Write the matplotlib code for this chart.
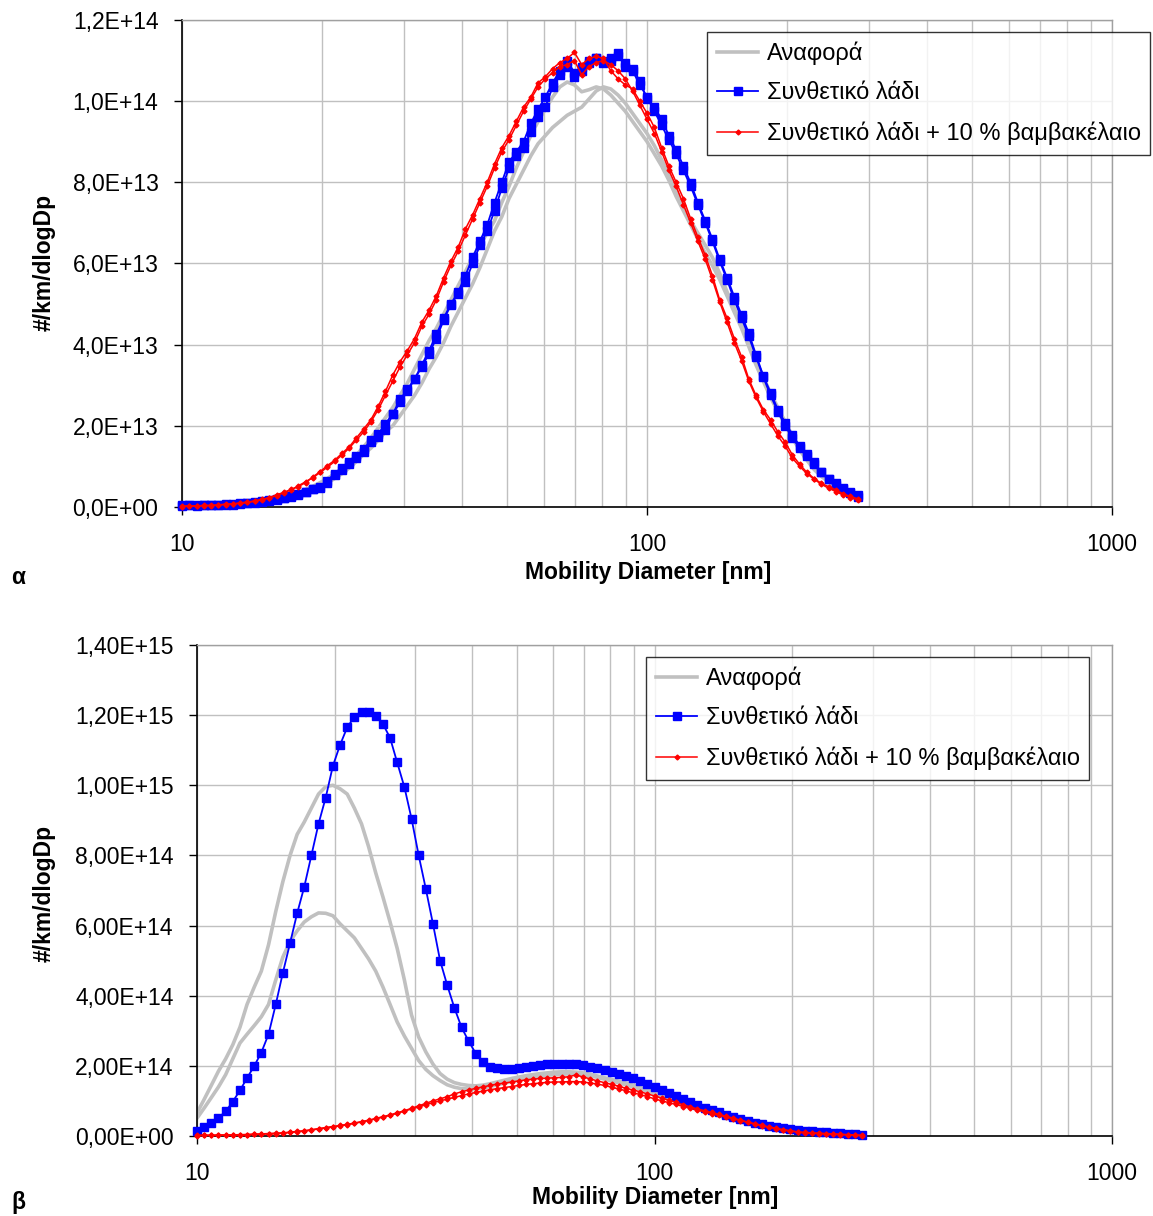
import matplotlib
matplotlib.use('Agg')
import matplotlib.pyplot as plt

plt.rcParams['font.family'] = ['Liberation Sans', 'DejaVu Sans']

# SMPS channel mid-points (nm), 64 channels per decade
diameter = [
    10.00, 10.37, 10.75, 11.14, 11.55, 11.97, 12.41, 12.86, 13.34, 13.82,
    14.33, 14.86, 15.40, 15.97, 16.55, 17.15, 17.78, 18.43, 19.11, 19.81,
    20.54, 21.29, 22.07, 22.88, 23.71, 24.58, 25.48, 26.42, 27.38, 28.39,
    29.43, 30.51, 31.62, 32.78, 33.98, 35.22, 36.52, 37.85, 39.24, 40.68,
    42.17, 43.71, 45.32, 46.98, 48.70, 50.48, 52.33, 54.25, 56.23, 58.29,
    60.43, 62.64, 64.94, 67.32, 69.78, 72.34, 74.99, 77.74, 80.58, 83.54,
    86.60, 89.77, 93.06, 96.47, 100.0, 103.7, 107.5, 111.4, 115.5, 119.7,
    124.1, 128.6, 133.4, 138.2, 143.3, 148.6, 154.0, 159.7, 165.5, 171.5,
    177.8, 184.3, 191.1, 198.1, 205.4, 212.9, 220.7, 228.8, 237.1, 245.8,
    254.8, 264.2, 273.8, 283.9]

# panel α, values in 1E+12 #/km/dlogDp
a_ref_1 = [
    0.2, 0.2, 0.3, 0.3, 0.3, 0.4, 0.4, 0.5, 0.6, 0.7,
    0.8, 1.0, 1.3, 1.6, 2.0, 2.5, 3.0, 3.6, 4.2, 5.0,
    5.9, 7.0, 8.2, 9.6, 11.2, 13.0, 14.5, 16.5, 18.5, 20.0,
    22.5, 25.0, 27.5, 30.5, 34.0, 37.0, 40.5, 44.5, 48.0, 51.5,
    55.0, 59.0, 63.5, 68.0, 71.5, 76.0, 79.5, 83.0, 86.5, 89.5,
    91.5, 93.5, 95.0, 96.5, 97.5, 98.5, 100.5, 102.5, 103.5, 103.0,
    101.5, 99.5, 97.0, 94.5, 92.0, 89.0, 85.5, 82.0, 78.0, 74.0,
    70.5, 67.5, 64.5, 61.5, 57.5, 53.0, 49.0, 45.0, 40.5, 36.0,
    32.0, 28.0, 24.5, 21.0, 17.5, 14.5, 12.0, 9.5, 7.8, 6.5,
    5.2, 4.0, 3.2, 2.5]
a_ref_2 = [
    0.3, 0.3, 0.4, 0.4, 0.5, 0.5, 0.6, 0.7, 0.8, 0.9,
    1.1, 1.3, 1.6, 2.0, 2.4, 3.0, 3.6, 4.3, 5.1, 6.0,
    7.0, 8.2, 9.5, 11.0, 12.8, 14.8, 17.0, 19.5, 22.0, 24.5,
    27.5, 30.5, 34.0, 37.5, 41.0, 44.0, 47.5, 51.0, 54.5, 58.0,
    61.5, 64.5, 67.5, 70.5, 75.0, 79.0, 83.5, 87.5, 91.5, 95.0,
    98.0, 101.0, 103.5, 104.7, 104.0, 102.3, 102.8, 103.5, 103.0, 101.5,
    99.5, 97.5, 95.0, 92.5, 90.0, 87.0, 84.0, 80.5, 76.5, 73.0,
    69.5, 66.0, 62.5, 59.5, 56.0, 52.0, 48.0, 44.0, 39.5, 35.0,
    31.0, 27.0, 23.5, 20.5, 17.0, 14.0, 11.5, 9.2, 7.5, 6.2,
    5.0, 3.9, 3.0, 2.3]
a_syn_1 = [
    0.3, 0.4, 0.4, 0.4, 0.5, 0.6, 0.7, 0.6, 0.8, 0.9,
    1.0, 1.1, 1.6, 1.9, 2.2, 2.5, 2.9, 3.6, 4.3, 4.7,
    6.5, 8.2, 9.2, 10.6, 12.0, 13.6, 15.9, 17.3, 19.0, 22.8,
    25.8, 28.5, 31.5, 34.5, 37.8, 41.5, 46.0, 49.8, 52.5, 55.5,
    60.0, 64.5, 68.0, 73.0, 78.5, 83.5, 86.5, 88.5, 92.5, 96.0,
    98.5, 103.5, 106.5, 110.0, 107.0, 108.5, 110.0, 110.5, 110.0, 110.5,
    111.8, 108.5, 108.0, 105.0, 100.5, 98.5, 95.5, 91.5, 88.0, 84.0,
    79.8, 75.0, 70.5, 66.0, 61.0, 56.5, 51.8, 47.3, 42.8, 37.5,
    32.3, 28.2, 24.0, 20.8, 17.8, 15.0, 13.0, 11.0, 8.5, 7.0,
    6.0, 4.6, 3.7, 3.0]
a_syn_2 = [
    0.5, 0.5, 0.3, 0.5, 0.6, 0.5, 0.6, 0.8, 0.9, 1.0,
    1.2, 1.4, 1.5, 1.8, 2.3, 2.8, 3.2, 3.8, 4.5, 5.0,
    6.0, 7.8, 9.6, 11.0, 12.5, 14.2, 16.5, 18.0, 20.5, 23.0,
    26.5, 29.0, 31.5, 35.0, 38.5, 42.5, 46.5, 50.0, 53.0, 57.0,
    61.5, 65.5, 69.5, 75.0, 80.0, 85.0, 87.5, 90.0, 94.5, 98.0,
    101.0, 104.5, 107.5, 108.5, 106.0, 107.5, 109.5, 110.5, 109.5, 110.0,
    111.0, 109.5, 107.5, 104.0, 101.0, 97.5, 94.0, 90.5, 87.0, 83.0,
    79.0, 74.5, 70.0, 65.5, 60.5, 56.0, 51.0, 46.5, 42.0, 37.0,
    32.0, 27.5, 23.5, 20.0, 17.0, 14.5, 12.5, 10.5, 8.5, 6.8,
    5.5, 4.3, 3.4, 2.5]
a_mix_1 = [
    0.2, 0.2, 0.3, 0.3, 0.4, 0.5, 0.6, 0.8, 0.9, 1.1,
    1.4, 1.8, 2.3, 3.0, 3.6, 4.3, 5.0, 6.0, 7.4, 8.7,
    10.2, 11.5, 13.2, 14.8, 17.0, 19.2, 21.5, 24.8, 28.5, 32.5,
    35.8, 38.5, 41.5, 45.5, 48.5, 52.0, 56.5, 60.5, 64.0, 68.5,
    72.0, 76.0, 80.0, 84.5, 88.5, 91.5, 95.0, 98.5, 101.0, 104.5,
    106.0, 108.0, 109.5, 110.5, 112.0, 109.0, 110.5, 111.0, 110.5, 107.5,
    105.5, 104.0, 103.0, 100.0, 97.0, 93.5, 88.5, 84.0, 80.0, 76.0,
    71.0, 66.5, 62.0, 57.0, 51.0, 46.5, 41.5, 37.0, 31.5, 27.5,
    24.0, 21.5, 18.5, 16.0, 12.8, 10.5, 8.5, 7.0, 5.8, 5.0,
    4.2, 3.2, 2.6, 2.0]
a_mix_2 = [
    0.1, 0.3, 0.2, 0.4, 0.3, 0.5, 0.7, 0.7, 1.0, 1.2,
    1.5, 1.9, 2.2, 2.8, 3.5, 4.2, 5.2, 6.2, 7.2, 8.5,
    9.8, 11.2, 12.8, 14.5, 16.5, 18.5, 21.0, 24.0, 27.5, 31.0,
    34.5, 37.5, 40.5, 44.5, 47.5, 51.0, 55.5, 59.5, 63.0, 67.0,
    71.0, 75.0, 79.0, 83.5, 87.5, 90.5, 94.0, 97.5, 100.5, 103.5,
    105.5, 107.0, 108.5, 109.0, 110.0, 106.5, 108.5, 109.5, 110.0, 109.0,
    107.5, 105.5, 102.5, 99.0, 95.5, 92.0, 87.5, 83.0, 79.0, 74.5,
    70.0, 65.5, 61.0, 56.0, 50.5, 45.5, 40.5, 36.0, 31.0, 27.0,
    23.5, 20.5, 17.5, 15.0, 12.0, 10.0, 8.2, 6.8, 5.6, 4.6,
    3.8, 3.0, 2.3, 1.7]

# panel β, values in 1E+13 #/km/dlogDp
b_ref_1 = [
    6.6, 10.5, 14.5, 18.5, 22.0, 26.0, 31.0, 37.5, 42.5, 47.0,
    54.5, 64.0, 72.5, 80.0, 86.0, 89.5, 93.5, 97.5, 99.6, 100.0,
    99.0, 97.5, 93.5, 89.0, 82.5, 75.0, 68.2, 61.0, 53.5, 44.5,
    34.5, 28.2, 24.0, 20.5, 17.8, 16.2, 15.2, 14.7, 14.4, 14.3,
    14.5, 14.9, 15.4, 15.9, 16.4, 16.8, 17.2, 17.5, 17.8, 18.0,
    18.2, 18.3, 18.3, 18.2, 18.0, 17.6, 17.1, 16.6, 16.1, 15.6,
    15.1, 14.5, 13.8, 13.1, 12.4, 11.6, 10.9, 10.1, 9.3, 8.6,
    7.9, 7.2, 6.5, 5.9, 5.3, 4.7, 4.2, 3.7, 3.2, 2.8,
    2.4, 2.1, 1.8, 1.5, 1.3, 1.1, 0.9, 0.8, 0.7, 0.6,
    0.5, 0.4, 0.3, 0.3]
b_ref_2 = [
    5.1, 8.0, 11.0, 14.0, 17.5, 22.0, 26.5, 29.0, 31.5, 34.0,
    37.5, 44.5, 51.0, 55.5, 58.5, 61.0, 62.5, 63.6, 63.5, 62.8,
    60.5, 58.5, 56.5, 53.5, 50.5, 47.0, 42.5, 37.5, 32.5, 28.5,
    25.0, 21.5, 19.0, 17.2, 15.8, 14.6, 13.9, 13.5, 13.4, 13.4,
    13.7, 14.1, 14.6, 15.1, 15.6, 16.0, 16.4, 16.8, 17.1, 17.3,
    17.5, 17.6, 17.7, 17.6, 17.4, 17.1, 16.7, 16.2, 15.7, 15.2,
    14.6, 14.0, 13.4, 12.8, 12.1, 11.4, 10.7, 9.9, 9.2, 8.5,
    7.8, 7.1, 6.4, 5.8, 5.2, 4.6, 4.1, 3.6, 3.1, 2.7,
    2.3, 2.0, 1.7, 1.4, 1.2, 1.0, 0.9, 0.8, 0.7, 0.6,
    0.5, 0.4, 0.3, 0.2]
b_syn = [
    1.5, 2.5, 3.6, 5.2, 7.0, 9.8, 13.0, 16.5, 20.0, 23.8,
    29.0, 37.5, 46.5, 55.0, 63.5, 71.0, 80.0, 89.0, 96.5, 105.5,
    111.5, 116.5, 119.5, 121.0, 121.0, 119.8, 117.5, 113.5, 106.5, 99.5,
    90.5, 80.0, 70.5, 60.5, 50.0, 43.0, 36.5, 31.0, 27.0, 23.5,
    21.0, 19.8, 19.3, 19.2, 19.2, 19.3, 19.6, 19.9, 20.2, 20.4,
    20.5, 20.6, 20.6, 20.5, 20.2, 19.8, 19.4, 18.9, 18.3, 17.7,
    17.0, 16.4, 15.6, 14.8, 14.0, 13.0, 12.2, 11.3, 10.5, 9.7,
    8.9, 8.1, 7.4, 6.7, 6.0, 5.4, 4.8, 4.3, 3.8, 3.3,
    2.9, 2.5, 2.2, 1.9, 1.7, 1.5, 1.3, 1.1, 1.0, 0.9,
    0.8, 0.7, 0.6, 0.4]
b_mix_1 = [
    0.2, 0.2, 0.2, 0.3, 0.3, 0.3, 0.4, 0.4, 0.5, 0.6,
    0.7, 0.8, 0.9, 1.1, 1.3, 1.5, 1.8, 2.1, 2.4, 2.7,
    3.0, 3.3, 3.7, 4.1, 4.5, 5.0, 5.5, 6.0, 6.6, 7.2,
    7.9, 8.6, 9.3, 10.0, 10.6, 11.2, 12.0, 12.6, 13.1, 13.6,
    14.0, 14.4, 14.8, 15.1, 15.4, 15.7, 16.0, 16.2, 16.4, 16.5,
    16.6, 16.7, 16.9, 17.4, 16.8, 16.3, 15.7, 15.2, 14.7, 14.2,
    13.6, 13.1, 12.6, 12.0, 11.4, 10.8, 10.2, 9.6, 8.9, 8.3,
    7.7, 7.2, 6.7, 6.2, 5.6, 5.1, 4.5, 4.0, 3.5, 3.0,
    2.6, 2.2, 1.8, 1.5, 1.2, 1.0, 0.9, 0.8, 0.7, 0.6,
    0.5, 0.4, 0.3, 0.2]
b_mix_2 = [
    0.1, 0.2, 0.2, 0.2, 0.3, 0.3, 0.3, 0.4, 0.5, 0.5,
    0.6, 0.7, 0.8, 1.0, 1.2, 1.4, 1.7, 2.0, 2.3, 2.6,
    2.9, 3.2, 3.6, 4.0, 4.4, 4.9, 5.4, 5.9, 6.5, 7.1,
    7.7, 8.3, 8.9, 9.5, 10.0, 10.5, 11.0, 11.5, 12.0, 12.4,
    12.8, 13.2, 13.5, 13.8, 14.1, 14.4, 14.7, 14.9, 15.1, 15.3,
    15.4, 15.4, 15.5, 15.5, 15.4, 15.1, 14.8, 14.4, 13.9, 13.4,
    12.9, 12.3, 11.8, 11.2, 10.6, 10.0, 9.5, 9.0, 8.4, 7.9,
    7.4, 6.9, 6.4, 5.9, 5.4, 4.9, 4.4, 3.9, 3.4, 2.9,
    2.5, 2.1, 1.7, 1.4, 1.1, 0.9, 0.8, 0.7, 0.6, 0.5,
    0.4, 0.3, 0.2, 0.1]

series_names = ['Αναφορά', 'Συνθετικό λάδι', 'Συνθετικό λάδι + 10 % βαμβακέλαιο']
x_ticks = [10, 100, 1000]
x_ticklabels = ['10', '100', '1000']
a_yticks = [0, 2e13, 4e13, 6e13, 8e13, 1e14, 1.2e14]
a_yticklabels = ['0,0E+00', '2,0E+13', '4,0E+13', '6,0E+13', '8,0E+13', '1,0E+14', '1,2E+14']
b_yticks = [0, 2e14, 4e14, 6e14, 8e14, 1e15, 1.2e15, 1.4e15]
b_yticklabels = ['0,00E+00', '2,00E+14', '4,00E+14', '6,00E+14', '8,00E+14',
                 '1,00E+15', '1,20E+15', '1,40E+15']

GRAY = '#c0c0c0'
BLUE = '#0000ff'
RED = '#ff0000'


def draw_panel(ax, refs, syns, mixes, scale, yticks, yticklabels, legend_pos):
    for k, vals in enumerate(refs):
        ax.plot(diameter, [v * scale for v in vals], color=GRAY, lw=2.6,
                label=series_names[0] if k == 0 else None, zorder=2)
    for k, vals in enumerate(syns):
        ax.plot(diameter, [v * scale for v in vals], color=BLUE, lw=1.3,
                marker='s', ms=6.3, label=series_names[1] if k == 0 else None,
                zorder=3, clip_on=False)
    for k, vals in enumerate(mixes):
        ax.plot(diameter, [v * scale for v in vals], color=RED, lw=1.1,
                marker='D', ms=2.5, label=series_names[2] if k == 0 else None,
                zorder=4, clip_on=False)

    ax.set_xscale('log')
    ax.set_xlim(10, 1000)
    ax.set_ylim(yticks[0], yticks[-1])
    ax.set_xticks(x_ticks)
    ax.set_xticklabels(x_ticklabels)
    ax.xaxis.set_minor_formatter(plt.NullFormatter())
    ax.set_yticks(yticks)
    ax.set_yticklabels(yticklabels)
    ax.tick_params(axis='both', which='major', labelsize=16.5, length=6,
                   width=1, direction='out', color='black')
    ax.tick_params(axis='x', which='major', pad=13)
    ax.tick_params(axis='y', which='major', pad=11)
    ax.tick_params(axis='x', which='minor', length=0)

    ax.grid(True, which='both', axis='x', color=GRAY, lw=1)
    ax.grid(True, which='major', axis='y', color=GRAY, lw=1)
    ax.set_axisbelow(True)
    for side in ['left', 'bottom']:
        ax.spines[side].set_color('black')
        ax.spines[side].set_linewidth(1.2)
    for side in ['top', 'right']:
        ax.spines[side].set_color('#a0a0a0')
        ax.spines[side].set_linewidth(1)

    leg = ax.legend(loc='upper left', bbox_to_anchor=legend_pos, borderaxespad=0,
                    fontsize=17, frameon=True, fancybox=False, edgecolor='black',
                    handlelength=1.75, handletextpad=0.35, labelspacing=0.72,
                    borderpad=0.42, numpoints=1)
    leg.get_frame().set_linewidth(1)
    leg.set_zorder(10)


fig = plt.figure(figsize=(11.53, 12.16), dpi=100)

ax_a = fig.add_axes([0.1579, 0.5831, 0.8066, 0.4005])
draw_panel(ax_a, [a_ref_1, a_ref_2], [a_syn_1, a_syn_2], [a_mix_1, a_mix_2], 1e12,
           a_yticks, a_yticklabels, (0.5645, 0.9754))

ax_b = fig.add_axes([0.1709, 0.0658, 0.7936, 0.4038])
draw_panel(ax_b, [b_ref_1, b_ref_2], [b_syn], [b_mix_1, b_mix_2], 1e13,
           b_yticks, b_yticklabels, (0.4907, 0.9756))

lab = dict(fontsize=16.5, fontweight='bold', ha='center', va='center')
fig.text(0.562, 0.5288, 'Mobility Diameter [nm]', **lab)
fig.text(0.038, 0.784, '#/km/dlogDp', rotation=90, **lab)
fig.text(0.0156, 0.5247, 'α', **lab)
fig.text(0.568, 0.0156, 'Mobility Diameter [nm]', **lab)
fig.text(0.038, 0.2656, '#/km/dlogDp', rotation=90, **lab)
fig.text(0.0156, 0.0107, 'β', **lab)

fig.savefig('out.png', dpi=100)
